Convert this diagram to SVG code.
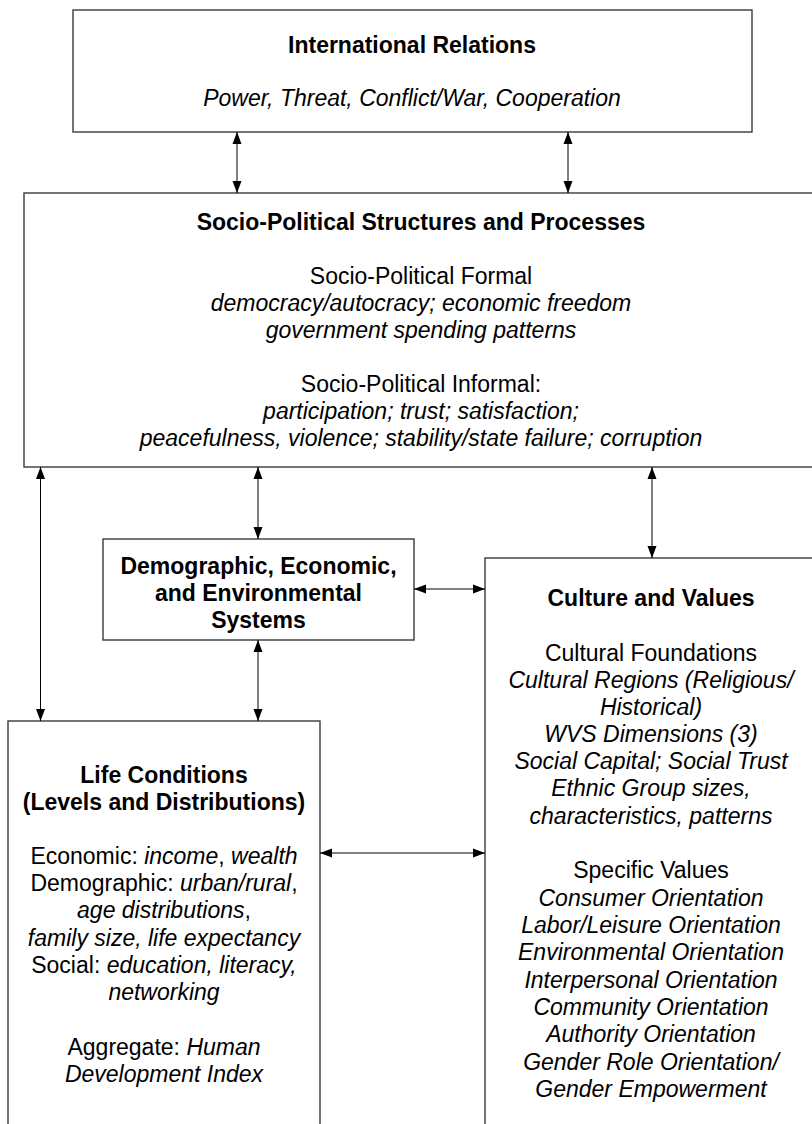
<svg xmlns="http://www.w3.org/2000/svg" width="812" height="1124" viewBox="0 0 812 1124">
<style>
.box{fill:#fff;stroke:#3a3a3a;stroke-width:1.4}
text{font-family:"Liberation Sans",Arial,sans-serif;font-size:23px;fill:#000;text-anchor:middle}
.b{font-weight:bold}
.i{font-style:italic}
.c line{stroke:#000;stroke-width:1;marker-start:url(#ah);marker-end:url(#ah)}
</style>
<defs>
<marker id="ah" markerUnits="userSpaceOnUse" markerWidth="12" markerHeight="10" refX="12" refY="5" orient="auto-start-reverse">
<path d="M0,0.5 L12,5 L0,9.5 z" fill="#000"/>
</marker>
</defs>
<g id="international-relations">
<rect class="box" x="73" y="10" width="679" height="122"/>
<text class="b" x="412" y="53">International Relations</text>
<text class="i" x="412" y="106">Power, Threat, Conflict/War, Cooperation</text>
</g>
<g id="socio-political">
<rect class="box" x="24" y="193" width="800" height="274"/>
<text class="b" x="421" y="230">Socio-Political Structures and Processes</text>
<text x="421" y="284">Socio-Political Formal</text>
<text class="i" x="421" y="311">democracy/autocracy; economic freedom</text>
<text class="i" x="421" y="338">government spending patterns</text>
<text x="421" y="392">Socio-Political Informal:</text>
<text class="i" x="421" y="419">participation; trust; satisfaction;</text>
<text class="i" x="421" y="446">peacefulness, violence; stability/state failure; corruption</text>
</g>
<g id="demographic">
<rect class="box" x="103" y="539" width="311" height="101"/>
<text class="b" x="258.5" y="574">Demographic, Economic,</text>
<text class="b" x="258.5" y="601">and Environmental</text>
<text class="b" x="258.5" y="628">Systems</text>
</g>
<g id="culture-values">
<rect class="box" x="485" y="558" width="340" height="580"/>
<text class="b" x="651" y="606">Culture and Values</text>
<text x="651" y="661">Cultural Foundations</text>
<text class="i" x="651" y="688">Cultural Regions (Religious/</text>
<text class="i" x="651" y="715">Historical)</text>
<text class="i" x="651" y="742">WVS Dimensions (3)</text>
<text class="i" x="651" y="769">Social Capital; Social Trust</text>
<text class="i" x="651" y="796">Ethnic Group sizes,</text>
<text class="i" x="651" y="824">characteristics, patterns</text>
<text x="651" y="878">Specific Values</text>
<text class="i" x="651" y="906">Consumer Orientation</text>
<text class="i" x="651" y="933">Labor/Leisure Orientation</text>
<text class="i" x="651" y="960">Environmental Orientation</text>
<text class="i" x="651" y="988">Interpersonal Orientation</text>
<text class="i" x="651" y="1015">Community Orientation</text>
<text class="i" x="651" y="1042">Authority Orientation</text>
<text class="i" x="651" y="1070">Gender Role Orientation/</text>
<text class="i" x="651" y="1097">Gender Empowerment</text>
</g>
<g id="life-conditions">
<rect class="box" x="8" y="721" width="312" height="420"/>
<text class="b" x="164" y="783">Life Conditions</text>
<text class="b" x="164" y="810">(Levels and Distributions)</text>
<text x="164" y="864">Economic: <tspan class="i">income</tspan>, <tspan class="i">wealth</tspan></text>
<text x="164" y="891">Demographic: <tspan class="i">urban/rural</tspan>,</text>
<text x="164" y="918"><tspan class="i">age distributions</tspan>,</text>
<text class="i" x="164" y="946">family size, life expectancy</text>
<text x="164" y="973">Social: <tspan class="i">education, literacy,</tspan></text>
<text class="i" x="164" y="1000">networking</text>
<text x="164" y="1055">Aggregate: <tspan class="i">Human</tspan></text>
<text class="i" x="164" y="1082">Development Index</text>
</g>
<g id="connectors" class="c">
<line x1="237" y1="132" x2="237" y2="193"/>
<line x1="568" y1="132" x2="568" y2="193"/>
<line x1="40.5" y1="467" x2="40.5" y2="721"/>
<line x1="258" y1="467" x2="258" y2="539"/>
<line x1="652" y1="467" x2="652" y2="558"/>
<line x1="414" y1="589" x2="485" y2="589"/>
<line x1="258" y1="640" x2="258" y2="721"/>
<line x1="320" y1="853" x2="485" y2="853"/>
</g>
</svg>
